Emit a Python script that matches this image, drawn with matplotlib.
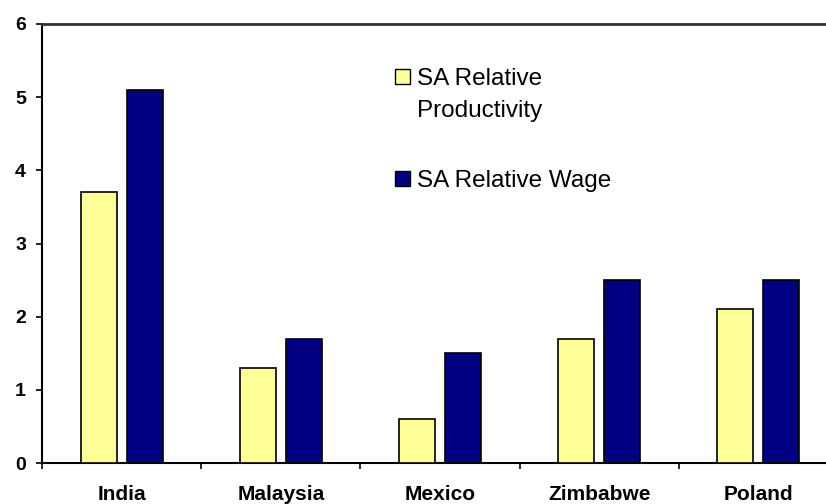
import matplotlib
matplotlib.use('Agg')
import matplotlib.pyplot as plt
from matplotlib.patches import Patch
import numpy as np

categories = ['India', 'Malaysia', 'Mexico', 'Zimbabwe', 'Poland']
productivity = [3.7, 1.3, 0.6, 1.7, 2.1]
wage = [5.1, 1.7, 1.5, 2.5, 2.5]
yticks = [0, 1, 2, 3, 4, 5, 6]

plt.rcParams['font.family'] = ['Liberation Sans', 'DejaVu Sans']

W, H = 826, 504
fig = plt.figure(figsize=(W / 100, H / 100), dpi=100)
ax = fig.add_axes([42 / W, (H - 463) / H, (838 - 42) / W, (463 - 24) / H])

x = np.arange(len(categories))
bw = 0.226
off = 0.145
ax.bar(x - off, productivity, bw, color='#FFFF99', edgecolor='black', linewidth=1.2, zorder=3)
ax.bar(x + off, wage, bw, color='#000080', edgecolor='black', linewidth=1.2, zorder=3)

ax.set_xlim(-0.5, len(categories) - 0.5)
ax.set_ylim(0, 6)
ax.set_yticks(yticks)
ax.set_yticklabels([str(v) for v in yticks], fontsize=14, fontweight='bold')

ax.set_xticks(np.arange(-0.5, len(categories), 1))
ax.set_xticklabels([])
ax.set_xticks(x, minor=True)
ax.set_xticklabels(categories, minor=True, fontsize=15, fontweight='bold')
ax.tick_params(axis='x', which='major', direction='out', length=4.5, width=1.2)
ax.tick_params(axis='x', which='minor', length=0, pad=16)
ax.tick_params(axis='y', direction='out', length=4.5, width=1.2, pad=7)

ax.spines['right'].set_visible(False)
ax.spines['top'].set_color('#333333')
ax.spines['top'].set_linewidth(2)
ax.spines['left'].set_linewidth(1.5)
ax.spines['bottom'].set_linewidth(1.5)

common = dict(loc='upper left', bbox_transform=fig.transFigure, frameon=False,
              fontsize=17.5, handlelength=0.62, handleheight=0.62, handletextpad=0.3,
              borderpad=0, borderaxespad=0)
leg1 = ax.legend(handles=[Patch(facecolor='#FFFF99', edgecolor='black', linewidth=1),
                          Patch(facecolor='none', edgecolor='none')],
                 labels=['SA Relative', 'Productivity'],
                 bbox_to_anchor=(395 / W, 1 - 68 / H), labelspacing=0.42, **common)
ax.add_artist(leg1)
leg2 = ax.legend(handles=[Patch(facecolor='#000080', edgecolor='black', linewidth=1)],
                 labels=['SA Relative Wage'],
                 bbox_to_anchor=(395 / W, 1 - 170 / H), **common)

fig.savefig('out.png', dpi=100)
